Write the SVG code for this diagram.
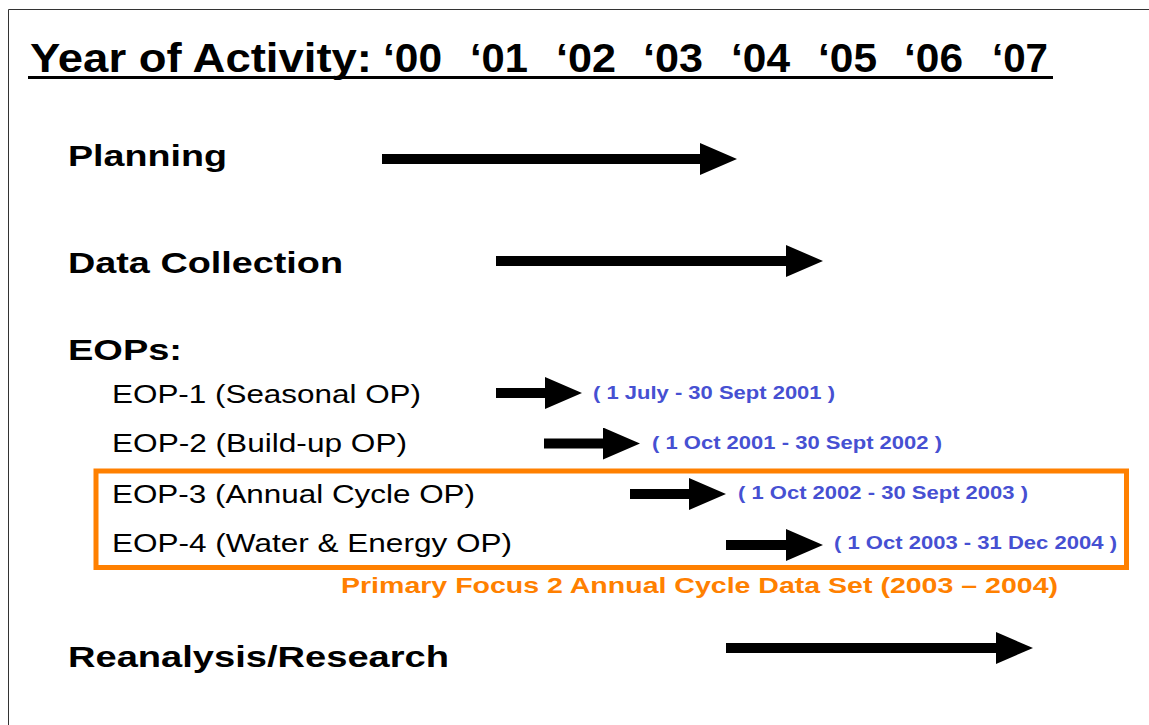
<svg xmlns="http://www.w3.org/2000/svg" width="1149" height="725" viewBox="0 0 1149 725">
  <style>
    .title { font-family: "Liberation Sans", Arial, sans-serif; font-weight: bold; font-size: 40px; fill: #000; }
    .head { font-family: "Liberation Sans", Arial, sans-serif; font-weight: bold; font-size: 30px; fill: #000; }
    .sub { font-family: "Liberation Sans", Arial, sans-serif; font-size: 25px; fill: #000; }
    .date { font-family: "Liberation Sans", Arial, sans-serif; font-weight: bold; font-size: 19px; fill: #4650D2; }
    .focus { font-family: "Liberation Sans", Arial, sans-serif; font-weight: bold; font-size: 22px; fill: #FF8000; }
    .bar { stroke: #000; stroke-width: 10; fill: none; marker-end: url(#tip); }
  </style>
  <defs>
    <marker id="tip" markerUnits="userSpaceOnUse" viewBox="0 0 37 32" markerWidth="37" markerHeight="32" refX="0" refY="16" orient="auto">
      <path d="M0 0 L37 16 L0 32 Z" fill="#000"/>
    </marker>
  </defs>

  <rect width="1149" height="725" fill="#fff"/>
  <!-- page frame -->
  <path d="M8.5 725 V9.5 H1149" fill="none" stroke="#333" stroke-width="1"/>

  <!-- heading with year scale -->
  <g id="year-scale">
    <text class="title" x="30" y="72" textLength="342" lengthAdjust="spacingAndGlyphs">Year of Activity:</text>
    <text class="title" x="383" y="72" textLength="59" lengthAdjust="spacingAndGlyphs">‘00</text>
    <text class="title" x="470" y="72" textLength="58" lengthAdjust="spacingAndGlyphs">‘01</text>
    <text class="title" x="556" y="72" textLength="60" lengthAdjust="spacingAndGlyphs">‘02</text>
    <text class="title" x="643" y="72" textLength="60" lengthAdjust="spacingAndGlyphs">‘03</text>
    <text class="title" x="731" y="72" textLength="59" lengthAdjust="spacingAndGlyphs">‘04</text>
    <text class="title" x="818" y="72" textLength="59" lengthAdjust="spacingAndGlyphs">‘05</text>
    <text class="title" x="904" y="72" textLength="59" lengthAdjust="spacingAndGlyphs">‘06</text>
    <text class="title" x="992" y="72" textLength="56" lengthAdjust="spacingAndGlyphs">‘07</text>
    <line x1="28" y1="77.5" x2="1053" y2="77.5" stroke="#000" stroke-width="3"/>
  </g>

  <g id="planning">
    <text class="head" x="68" y="166" textLength="159" lengthAdjust="spacingAndGlyphs">Planning</text>
  </g>

  <g id="data-collection">
    <text class="head" x="68" y="273" textLength="275" lengthAdjust="spacingAndGlyphs">Data Collection</text>
  </g>

  <g id="eops">
    <text class="head" x="68" y="360" textLength="114" lengthAdjust="spacingAndGlyphs">EOPs:</text>
  </g>

  <g id="eop-1">
    <text class="sub" x="112" y="403" textLength="309" lengthAdjust="spacingAndGlyphs">EOP-1 (Seasonal OP)</text>
    <text class="date" x="593" y="399" textLength="242" lengthAdjust="spacingAndGlyphs">( 1 July - 30 Sept 2001 )</text>
  </g>

  <g id="eop-2">
    <text class="sub" x="112" y="452" textLength="295" lengthAdjust="spacingAndGlyphs">EOP-2 (Build-up OP)</text>
    <text class="date" x="652" y="449" textLength="290" lengthAdjust="spacingAndGlyphs">( 1 Oct 2001 - 30 Sept 2002 )</text>
  </g>

  <!-- highlighted primary-focus block -->
  <g id="primary-focus">
    <rect x="96" y="471" width="1030.5" height="96.5" fill="none" stroke="#FF8000" stroke-width="5"/>
    <text class="focus" x="341" y="593" textLength="717" lengthAdjust="spacingAndGlyphs">Primary Focus 2 Annual Cycle Data Set (2003 – 2004)</text>
  </g>

  <g id="eop-3">
    <text class="sub" x="112" y="503" textLength="363" lengthAdjust="spacingAndGlyphs">EOP-3 (Annual Cycle OP)</text>
    <text class="date" x="738" y="499" textLength="290" lengthAdjust="spacingAndGlyphs">( 1 Oct 2002 - 30 Sept 2003 )</text>
  </g>

  <g id="eop-4">
    <text class="sub" x="112" y="552" textLength="400" lengthAdjust="spacingAndGlyphs">EOP-4 (Water &amp; Energy OP)</text>
    <text class="date" x="834" y="549" textLength="283" lengthAdjust="spacingAndGlyphs">( 1 Oct 2003 - 31 Dec 2004 )</text>
  </g>

  <g id="reanalysis">
    <text class="head" x="68" y="667" textLength="381" lengthAdjust="spacingAndGlyphs">Reanalysis/Research</text>
  </g>

  <!-- activity periods -->
  <g id="connectors">
    <line class="bar" x1="382" y1="159" x2="700" y2="159"/>
    <line class="bar" x1="496" y1="261" x2="786" y2="261"/>
    <line class="bar" x1="496" y1="393" x2="545" y2="393"/>
    <line class="bar" x1="544" y1="443.5" x2="603" y2="443.5"/>
    <line class="bar" x1="630" y1="494" x2="689" y2="494"/>
    <line class="bar" x1="726" y1="545" x2="786" y2="545"/>
    <line class="bar" x1="726" y1="648" x2="996" y2="648"/>
  </g>
</svg>
